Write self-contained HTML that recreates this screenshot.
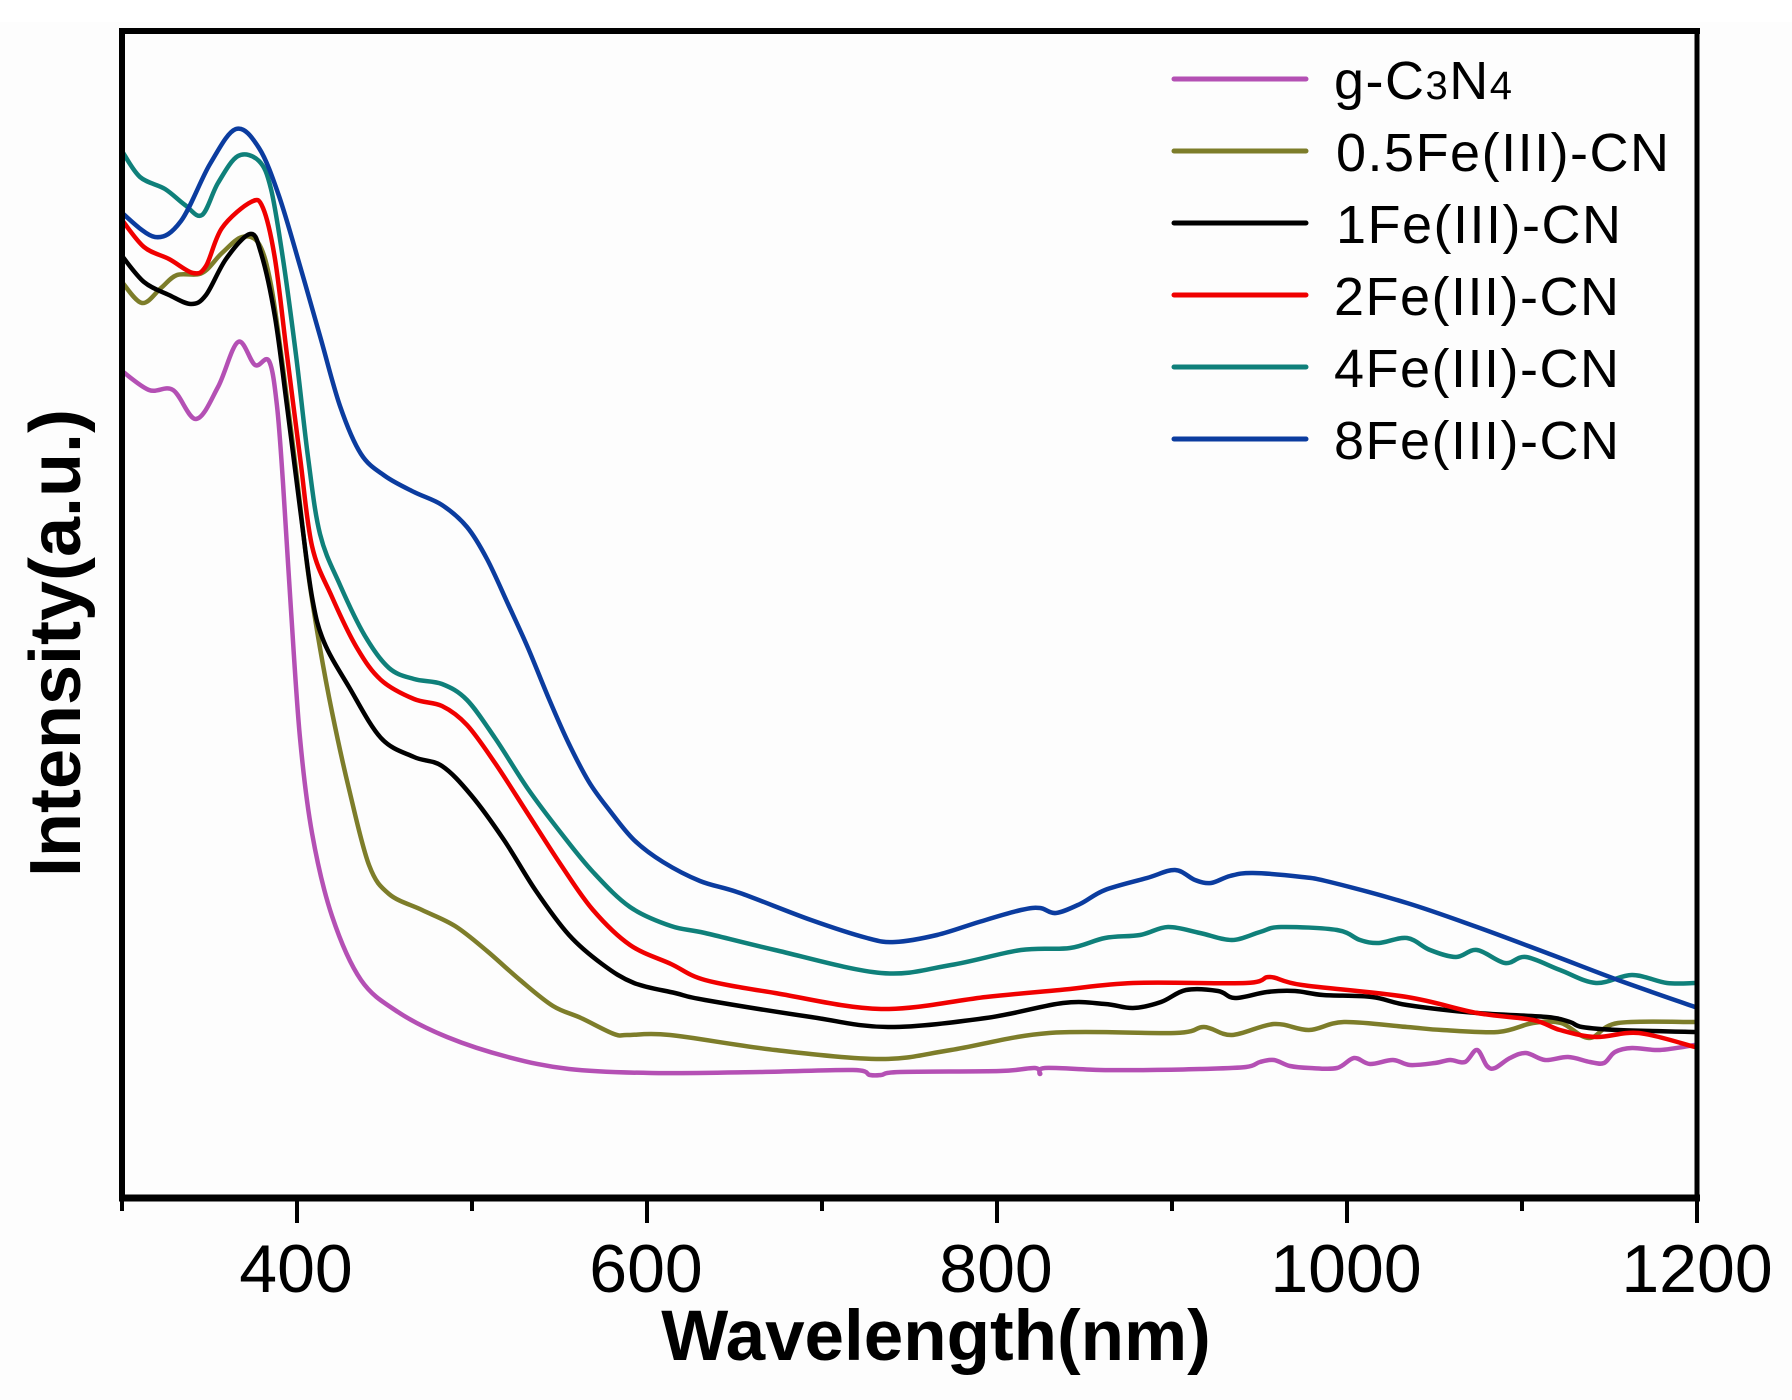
<!DOCTYPE html>
<html>
<head>
<meta charset="utf-8">
<style>
  html, body { margin:0; padding:0; background:#fdfdfd; }
  body { width:1792px; height:1400px; overflow:hidden; }
  svg { display:block; }
  text { font-family: "Liberation Sans", Arial, sans-serif; fill:#000; }
</style>
</head>
<body>
<svg id="chart" width="1792" height="1400" viewBox="0 0 1792 1400" xmlns="http://www.w3.org/2000/svg">
  <rect x="0" y="0" width="1792" height="1400" fill="#fdfdfd"/>
  <rect x="0" y="0" width="1792" height="22" fill="#ffffff"/>

  <g id="curves" fill="none" stroke-width="4.5" stroke-linejoin="round" stroke-linecap="round">
    <!-- g-C3N4 (pink) -->
    <polyline stroke="#b450b4" points="122,371 149,390 173,390 196,419 218,387 238,342 255,365 269,361 277,406 283,483 291,610 300,738 312,833 332,916 361,980 398,1012 447,1037 508,1057 569,1069 651,1073 760,1072 853,1070 870,1075 881,1075 900,1072 1000,1071 1035,1068 1040,1074 1045,1068 1100,1070 1150,1070 1200,1069 1246,1067 1260,1062 1274,1060 1290,1066 1310,1068 1337,1068 1354,1058 1370,1064 1393,1060 1410,1065 1435,1063 1450,1060 1465,1062 1477,1050 1487,1066 1495,1068 1510,1058 1526,1053 1545,1060 1568,1057 1590,1062 1604,1063 1615,1052 1632,1048 1660,1050 1695,1045"/>
    <!-- 0.5Fe (olive) -->
    <polyline stroke="#7d7d2a" points="122,282 142,303 161,288 177,275 202,273 222,253 242,237 259,244 271,285 283,368 296,470 308,572 320,648 332,712 349,789 369,865 389,894 422,910 455,926 487,951 520,980 553,1006 581,1018 614,1034 628,1035 670,1035 775,1050 881,1059 951,1050 1049,1033 1175,1033 1204,1027 1232,1035 1274,1024 1309,1030 1344,1022 1407,1027 1442,1030 1498,1032 1533,1023 1561,1023 1589,1038 1618,1023 1695,1022"/>
    <!-- 1Fe (black) -->
    <polyline stroke="#000000" points="122,256 144,282 169,295 191,304 206,295 226,259 250,234 261,253 275,317 287,406 300,508 312,597 324,642 349,687 381,738 414,757 442,766 471,795 504,840 536,891 569,935 602,964 634,983 675,993 705,1000 811,1017 888,1027 986,1018 1063,1003 1105,1004 1133,1008 1161,1002 1186,990 1218,991 1235,998 1267,992 1295,991 1323,995 1372,997 1407,1005 1477,1013 1547,1017 1570,1022 1582,1027 1618,1030 1695,1032"/>
    <!-- 2Fe (red) -->
    <polyline stroke="#f00000" points="122,220 144,247 169,259 193,273 206,266 222,228 251,202 263,208 275,259 287,355 300,457 312,546 332,597 357,648 381,680 414,699 442,706 467,725 495,763 528,814 561,865 593,910 630,945 671,964 705,980 775,993 881,1009 986,997 1060,990 1133,983 1246,983 1270,977 1302,985 1407,997 1477,1013 1533,1020 1560,1030 1596,1037 1639,1033 1695,1047"/>
    <!-- 4Fe (teal) -->
    <polyline stroke="#0f807a" points="122,151 140,177 165,189 185,205 202,215 218,183 238,156 259,161 271,189 283,259 296,355 308,457 320,534 340,585 365,636 389,668 414,679 442,684 467,700 495,738 528,789 561,833 593,872 630,907 671,926 705,933 775,950 881,973 951,965 1021,950 1070,948 1105,938 1140,935 1168,927 1200,933 1232,940 1260,932 1281,927 1337,930 1360,940 1379,943 1407,938 1430,950 1456,957 1477,950 1505,963 1526,957 1560,970 1596,983 1632,975 1667,983 1695,983"/>
    <!-- 8Fe (blue) -->
    <polyline stroke="#0b3c9f" points="122,213 155,237 181,221 210,164 236,129 259,148 279,196 300,266 320,336 340,406 361,454 385,476 414,492 442,505 467,527 487,559 508,604 528,648 549,699 569,744 589,782 610,811 634,840 663,862 700,881 740,893 811,920 867,938 895,942 937,935 979,922 1021,910 1040,908 1056,913 1080,904 1105,890 1147,878 1175,870 1195,880 1211,883 1230,876 1253,873 1302,877 1330,882 1407,903 1477,927 1547,953 1618,980 1695,1007"/>
  </g>

  <!-- frame -->
  <g stroke="#000" fill="none">
    <line x1="119" y1="31" x2="1700" y2="31" stroke-width="6"/>
    <line x1="122" y1="28" x2="122" y2="1201" stroke-width="6"/>
    <line x1="1697" y1="28" x2="1697" y2="1201" stroke-width="5"/>
    <line x1="119" y1="1198" x2="1700" y2="1198" stroke-width="7"/>
  </g>
  <!-- ticks -->
  <g stroke="#000" stroke-width="4">
    <line x1="122" y1="1198" x2="122" y2="1211"/>
    <line x1="297" y1="1198" x2="297" y2="1223"/>
    <line x1="472" y1="1198" x2="472" y2="1211"/>
    <line x1="647" y1="1198" x2="647" y2="1223"/>
    <line x1="822" y1="1198" x2="822" y2="1211"/>
    <line x1="997" y1="1198" x2="997" y2="1223"/>
    <line x1="1172" y1="1198" x2="1172" y2="1211"/>
    <line x1="1347" y1="1198" x2="1347" y2="1223"/>
    <line x1="1522" y1="1198" x2="1522" y2="1211"/>
    <line x1="1697" y1="1198" x2="1697" y2="1223"/>
  </g>
  <!-- tick labels -->
  <g font-size="68" text-anchor="middle">
    <text x="296" y="1292">400</text>
    <text x="646" y="1292">600</text>
    <text x="996" y="1292">800</text>
    <text x="1346" y="1292">1000</text>
    <text x="1697" y="1292">1200</text>
  </g>
  <!-- axis labels -->
  <text x="936" y="1360" font-size="71" font-weight="bold" text-anchor="middle">Wavelength(nm)</text>
  <text transform="translate(80,643) rotate(-90)" font-size="72" font-weight="bold" text-anchor="middle">Intensity(a.u.)</text>

  <!-- legend -->
  <g stroke-width="5" stroke-linecap="round">
    <line x1="1174" y1="79" x2="1306" y2="79" stroke="#b450b4"/>
    <line x1="1174" y1="151" x2="1306" y2="151" stroke="#7d7d2a"/>
    <line x1="1174" y1="223" x2="1306" y2="223" stroke="#000000"/>
    <line x1="1174" y1="295" x2="1306" y2="295" stroke="#f00000"/>
    <line x1="1174" y1="367" x2="1306" y2="367" stroke="#0f807a"/>
    <line x1="1174" y1="439" x2="1306" y2="439" stroke="#0b3c9f"/>
  </g>
  <g font-size="54" letter-spacing="1.5">
    <text x="1334" y="99">g-C<tspan font-size="40">3</tspan>N<tspan font-size="40">4</tspan></text>
    <text x="1336" y="171">0.5Fe(III)-CN</text>
    <text x="1336" y="243">1Fe(III)-CN</text>
    <text x="1334" y="315">2Fe(III)-CN</text>
    <text x="1334" y="387">4Fe(III)-CN</text>
    <text x="1334" y="459">8Fe(III)-CN</text>
  </g>
</svg>
<script>
(function(){
  var ns = "http://www.w3.org/2000/svg";
  var g = document.getElementById("curves");
  var polys = Array.prototype.slice.call(g.getElementsByTagName("polyline"));
  polys.forEach(function(pl){
    var raw = pl.getAttribute("points").trim().split(/\s+/);
    var p = raw.map(function(s){ var a = s.split(","); return [parseFloat(a[0]), parseFloat(a[1])]; });
    if (p.length < 3) return;
    var d = "M" + p[0][0] + "," + p[0][1];
    for (var i = 0; i < p.length - 1; i++) {
      var p0 = p[i > 0 ? i - 1 : i], p1 = p[i], p2 = p[i + 1], p3 = p[i + 2 < p.length ? i + 2 : i + 1];
      var c1x = p1[0] + (p2[0] - p0[0]) / 6, c1y = p1[1] + (p2[1] - p0[1]) / 6;
      var c2x = p2[0] - (p3[0] - p1[0]) / 6, c2y = p2[1] - (p3[1] - p1[1]) / 6;
      d += " C" + c1x.toFixed(1) + "," + c1y.toFixed(1) + " " + c2x.toFixed(1) + "," + c2y.toFixed(1) + " " + p2[0] + "," + p2[1];
    }
    var path = document.createElementNS(ns, "path");
    path.setAttribute("d", d);
    path.setAttribute("stroke", pl.getAttribute("stroke"));
    g.insertBefore(path, pl);
    g.removeChild(pl);
  });
})();
</script>
</body>
</html>
